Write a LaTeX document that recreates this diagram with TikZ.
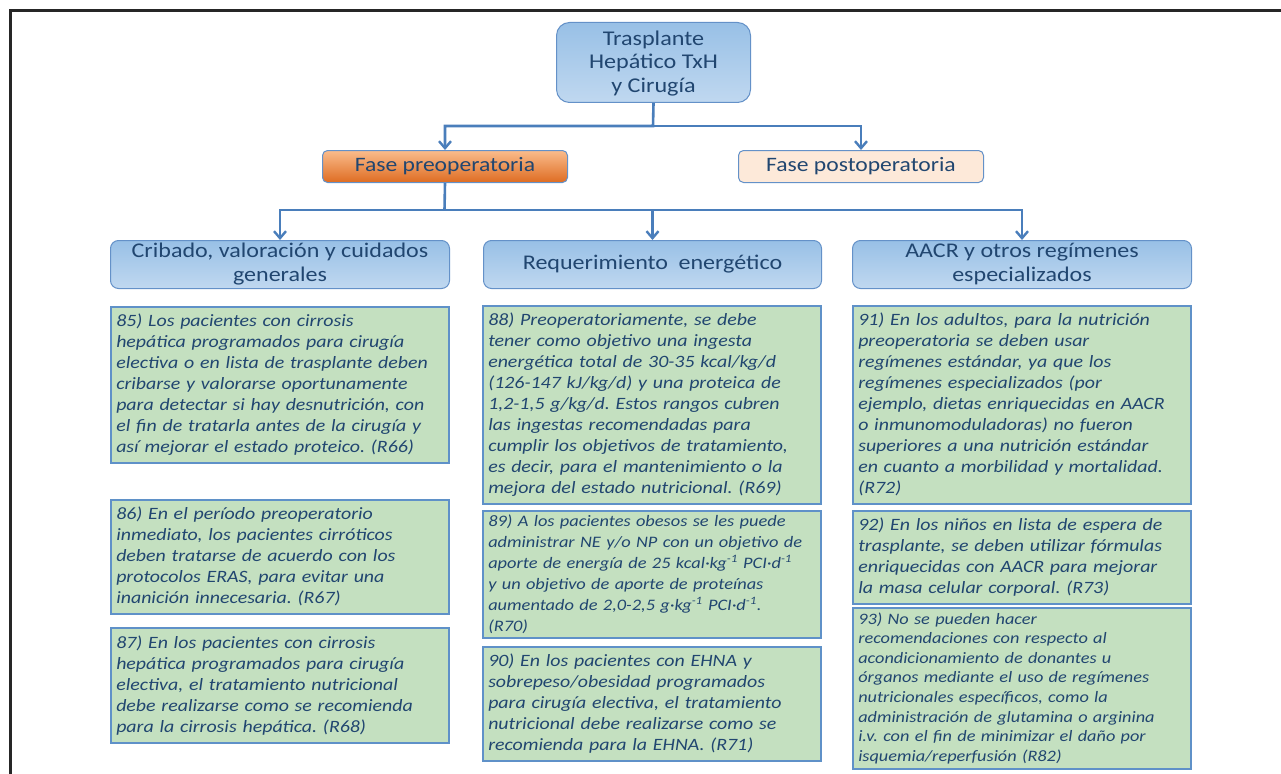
\documentclass[tikz,border=0pt]{standalone}
\usepackage{fontspec}
\setmainfont[FakeStretch=1.15]{Carlito}
\usetikzlibrary{arrows.meta}
\definecolor{txtblue}{RGB}{33,70,112}
\definecolor{lineblue}{RGB}{74,126,187}
\definecolor{bordblue}{RGB}{100,145,200}
\definecolor{hdtop}{RGB}{152,192,230}
\definecolor{hdbot}{RGB}{192,216,240}
\definecolor{ortop}{RGB}{250,188,140}
\definecolor{orbot}{RGB}{222,108,34}
\definecolor{peach}{RGB}{253,233,217}
\definecolor{grfill}{RGB}{196,224,192}
\definecolor{grbord}{RGB}{95,145,200}
\definecolor{framec}{RGB}{38,38,38}
\tikzset{
  conn/.style={draw=lineblue, line width=2.6pt},
  tip/.style={-{Straight Barb[length=7pt,width=12pt,line width=2.4pt]}},
  headbox/.style={draw=bordblue, line width=1pt, rounded corners=8pt, top color=hdtop, bottom color=hdbot,
    text=txtblue, align=center, font=\fontsize{20.9}{24}\selectfont, minimum width=339pt, minimum height=48pt, anchor=north west, inner sep=2pt},
  phasebox/.style={draw=bordblue, line width=1pt, rounded corners=5pt, text=txtblue,
    font=\fontsize{20.5}{22}\selectfont, minimum width=245pt, minimum height=32pt, anchor=north west, inner sep=2pt},
  recbox/.style={draw=grbord, line width=1.5pt, fill=grfill, text=txtblue, anchor=north west,
    align=left, text width=327pt, inner xsep=5.5pt, inner ysep=2pt, font=\itshape\fontsize{17.3}{21}\selectfont},
  recsmall/.style={recbox, font=\itshape\fontsize{16}{21}\selectfont},
  rectiny/.style={recbox, font=\itshape\fontsize{15.9}{19.6}\selectfont},
}
\frenchspacing
\begin{document}
\frenchspacing
\begin{tikzpicture}[x=1pt,y=-1pt]
\useasboundingbox (0,0) rectangle (1281,773);
\fill[white] (0,0) rectangle (1281,773);
\draw[framec, line width=3pt] (10,774) -- (10,11) -- (1282,11);

\node[draw=bordblue, line width=1pt, rounded corners=13pt, top color=hdtop, bottom color=hdbot, text=txtblue,
  align=center, font=\fontsize{21}{23.2}\selectfont, minimum width=194pt, minimum height=80pt, anchor=north west, inner sep=2pt]
  (top) at (556,22) {\strut Trasplante\\Hepático TxH\\y Cirugía};

\node[phasebox, top color=ortop, bottom color=orbot] (pre) at (322,150) {Fase preoperatoria};
\node[phasebox, fill=peach] (post) at (738,150) {Fase postoperatoria};

\node[headbox] (h1) at (110,240) {Cribado, valoración y cuidados\\generales};
\node[headbox, minimum width=338pt] (h2) at (483,240) {Requerimiento\hspace{0.5em}energético};
\node[headbox] (h3) at (852,240) {AACR y otros regímenes\\especializados};

\coordinate (bar1) at (653,126);
\coordinate (bar2) at (444.5,210);
\draw[conn, tip] (top.south) -- (bar1) -| (pre.north);
\draw[conn, tip] (bar1) -| (post.north);
\draw[conn] (pre.south) -- (bar2);
\draw[conn, tip] (bar2) -| (h1.north);
\draw[conn, tip] (bar2) -| (h2.north);
\draw[conn, tip] (bar2) -| (h3.north);

% left column
\node[recbox, minimum height=156pt] (r85) at (110,306) {85) Los pacientes con cirrosis\\hepática programados para cirugía\\electiva o en lista de trasplante deben\\cribarse y valorarse oportunamente\\para detectar si hay desnutrición, con\\el fin de tratarla antes de la cirugía y\\así mejorar el estado proteico. (R66)};
\node[recbox, minimum height=114pt] (r86) at (110,499) {86) En el período preoperatorio\\inmediato, los pacientes cirróticos\\deben tratarse de acuerdo con los\\protocolos ERAS, para evitar una\\inanición innecesaria. (R67)};
\node[recbox, minimum height=115pt] (r87) at (110,627) {87) En los pacientes con cirrosis\\hepática programados para cirugía\\electiva, el tratamiento nutricional\\debe realizarse como se recomienda\\para la cirrosis hepática. (R68)};

% middle column
\node[recbox, minimum height=198pt] (r88) at (482,305) {88) Preoperatoriamente, se debe\\tener como objetivo una ingesta\\energética total de 30-35 kcal/kg/d\\(126-147 kJ/kg/d) y una proteica de\\1,2-1,5 g/kg/d. Estos rangos cubren\\las ingestas recomendadas para\\cumplir los objetivos de tratamiento,\\es decir, para el mantenimiento o la\\mejora del estado nutricional. (R69)};
\node[recsmall, minimum height=127pt] (r89) at (482,510) {89) A los pacientes obesos se les puede\\administrar NE y/o NP con un objetivo de\\aporte de energía de 25 kcal·kg\textsuperscript{-1} PCI·d\textsuperscript{-1}\\y un objetivo de aporte de proteínas\\aumentado de 2,0-2,5 g·kg\textsuperscript{-1} PCI·d\textsuperscript{-1}.\\(R70)};
\node[recbox, minimum height=114pt] (r90) at (482,646) {90) En los pacientes con EHNA y\\sobrepeso/obesidad programados\\para cirugía electiva, el tratamiento\\nutricional debe realizarse como se\\recomienda para la EHNA. (R71)};

% right column
\node[recbox, minimum height=198pt] (r91) at (852,305) {91) En los adultos, para la nutrición\\preoperatoria se deben usar\\regímenes estándar, ya que los\\regímenes especializados (por\\ejemplo, dietas enriquecidas en AACR\\o inmunomoduladoras) no fueron\\superiores a una nutrición estándar\\en cuanto a morbilidad y mortalidad.\\(R72)};
\node[recbox, minimum height=93pt] (r92) at (852,510) {92) En los niños en lista de espera de\\trasplante, se deben utilizar fórmulas\\enriquecidas con AACR para mejorar\\la masa celular corporal. (R73)};
\node[rectiny, minimum height=161pt] (r93) at (852,607) {93) No se pueden hacer\\recomendaciones con respecto al\\acondicionamiento de donantes u\\órganos mediante el uso de regímenes\\nutricionales específicos, como la\\administración de glutamina o arginina\\i.v. con el fin de minimizar el daño por\\isquemia/reperfusión (R82)};
\end{tikzpicture}
\end{document}
